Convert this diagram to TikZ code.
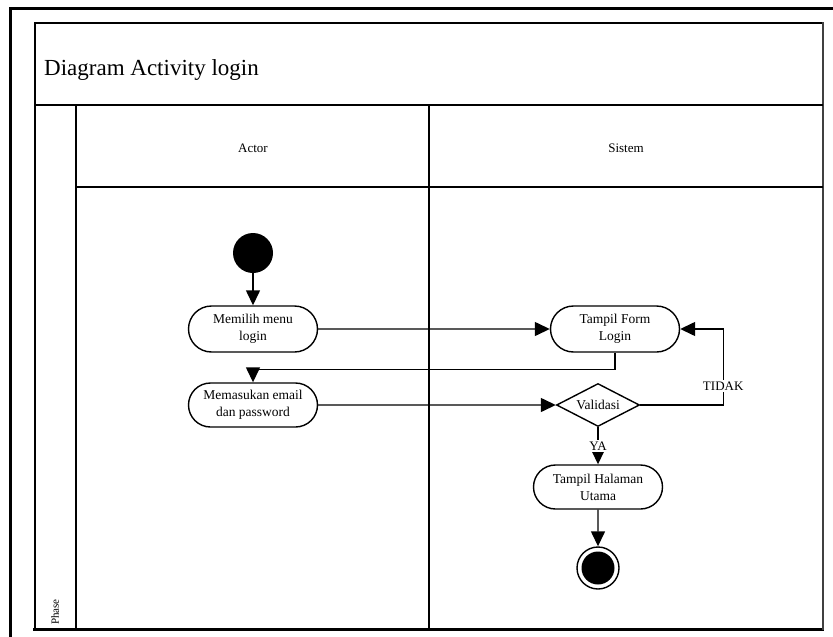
\documentclass[tikz,border=0pt]{standalone}
\usepackage{fontspec}
\setmainfont{Liberation Serif}
\usetikzlibrary{shapes.geometric,shapes.misc,arrows.meta}

\begin{document}
\begin{tikzpicture}[x=1pt,y=-1pt,
  every node/.style={font=\fontsize{13.5}{17}\selectfont},
  activity/.style={rounded rectangle, draw, line width=1.4pt, minimum width=129pt,
    minimum height=46pt, inner sep=0pt, align=center},
  decision/.style={diamond, draw, line width=1.4pt, minimum width=83pt,
    minimum height=43pt, inner sep=0pt, aspect=1.93},
  flow/.style={line width=1.4pt, -{Triangle[length=15pt,width=14pt]}},
  guard/.style={fill=white, inner sep=1.5pt, font=\fontsize{13}{15}\selectfont},
  frame/.style={line width=2pt},
  lanetext/.style={font=\fontsize{13}{15}\selectfont}]

\useasboundingbox (0,0) rectangle (833,637);
\clip (0,0) rectangle (833,637);

% outer page frame
\draw[line width=3pt] (10,8) rectangle (860,670);

% swimlane frame
\draw[frame] (35,23) rectangle (823,629);
\draw[line width=3pt] (33,629) -- (824,629);
\draw[line width=2.6pt, black!75] (823,22) -- (823,630);
\draw[frame] (35,105) -- (823,105);
\draw[frame] (76,105) -- (76,629);
\draw[frame] (76,187) -- (823,187);
\draw[frame] (429,105) -- (429,629);

% titles
\node[anchor=base west, font=\fontsize{23}{27}\selectfont, inner sep=0pt] (title) at (44,75) {Diagram Activity login};
\node[lanetext] (laneactor) at (253,148) {Actor};
\node[lanetext] (lanesistem) at (626,148) {Sistem};
\node[rotate=90, anchor=west, font=\fontsize{11}{13}\selectfont, inner sep=1pt] (phase) at (55,626) {Phase};

% activity nodes
\node[circle, fill=black, minimum size=40pt, inner sep=0pt] (start) at (253,253) {};
\node[activity] (memilih) at (253,329) {Memilih menu\\login};
\node[activity] (form) at (615,329) {Tampil Form\\Login};
\node[activity, minimum height=44pt] (memasukan) at (253,405) {Memasukan email\\dan password};
\node[decision] (validasi) at (598,405) {Validasi};
\node[activity, minimum height=44pt] (utama) at (598,487) {Tampil Halaman\\Utama};
\node[circle, draw, line width=1.4pt, minimum size=42pt, inner sep=0pt] (end) at (598,568) {};
\fill (end.center) circle (16.5pt);

% control flow
\draw[flow] (start) -- (memilih);
\draw[flow] (memilih) -- (form);
\draw[flow] (form.south) -- ++(0,17) -| (memasukan.north);
\draw[flow] (memasukan) -- (validasi);
\draw[flow] (validasi.east) -- ++(83,0) |- (form.east)
  node[guard, pos=0.125] {TIDAK};
\draw[flow] (validasi.south) -- (utama.north)
  node[guard, pos=0.5] {YA};
\draw[flow] (utama) -- (end);

\end{tikzpicture}
\end{document}
